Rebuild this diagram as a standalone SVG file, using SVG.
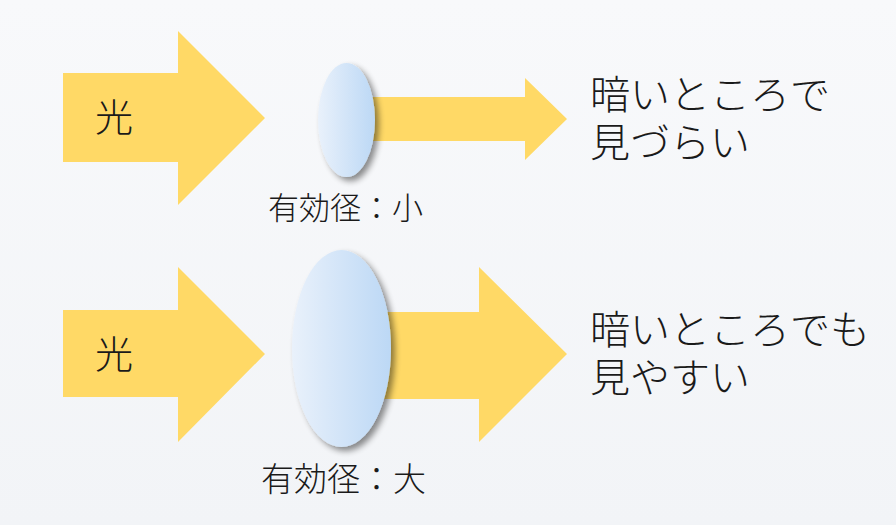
<svg xmlns="http://www.w3.org/2000/svg" width="896" height="525" viewBox="0 0 896 525">
<defs>
<linearGradient id="bg" x1="0" y1="0" x2="0" y2="1">
<stop offset="0" stop-color="#f8f9fb"/>
<stop offset="1" stop-color="#f2f4f7"/>
</linearGradient>
<linearGradient id="lens" x1="0" y1="0" x2="1" y2="0">
<stop offset="0" stop-color="#e9f1fb"/>
<stop offset="1" stop-color="#bcd8f5"/>
</linearGradient>
<filter id="sh" x="-30%" y="-20%" width="170%" height="150%">
<feGaussianBlur in="SourceAlpha" stdDeviation="3"/>
<feOffset dx="4" dy="4" result="b"/>
<feComponentTransfer><feFuncA type="linear" slope="0.45"/></feComponentTransfer>
<feMerge><feMergeNode/><feMergeNode in="SourceGraphic"/></feMerge>
</filter>
</defs>
<style>
.arrow{fill:#ffd966}
.lens{fill:url(#lens)}
.t{font-family:"Noto Sans CJK JP","Noto Sans",sans-serif;font-weight:300;fill:#1a1a1a}
</style>
<rect width="896" height="525" fill="url(#bg)"/>
<g id="connectors">
<polygon id="in-top" class="arrow" points="63,73 178,73 178,31 265,118 178,205 178,162 63,162"/>
<polygon id="out-top" class="arrow" points="360,97 525,97 525,78 567,119 525,160 525,141 360,141"/>
<polygon id="in-bottom" class="arrow" points="63,310 178,310 178,267 265,354 178,442 178,397 63,397"/>
<polygon id="out-bottom" class="arrow" points="360,312 479,312 479,267 567,354 479,442 479,399 360,399"/>
</g>
<g id="light-top"><text class="t" x="95" y="131" font-size="38">光</text></g>
<g id="light-bottom"><text class="t" x="95" y="368" font-size="38">光</text></g>
<g id="lens-small">
<ellipse class="lens" cx="346.5" cy="120" rx="28.5" ry="57" filter="url(#sh)"/>
<text class="t" x="268" y="219" font-size="31">有効径：小</text>
</g>
<g id="lens-large">
<ellipse class="lens" cx="341.5" cy="348.5" rx="49.5" ry="98.5" filter="url(#sh)"/>
<text class="t" x="261" y="491" font-size="33">有効径：大</text>
</g>
<g id="result-top">
<text class="t" x="590" y="109" font-size="40">暗いところで</text>
<text class="t" x="590" y="157" font-size="40">見づらい</text>
</g>
<g id="result-bottom">
<text class="t" x="590" y="344" font-size="40">暗いところでも</text>
<text class="t" x="590" y="392" font-size="40">見やすい</text>
</g>
</svg>
